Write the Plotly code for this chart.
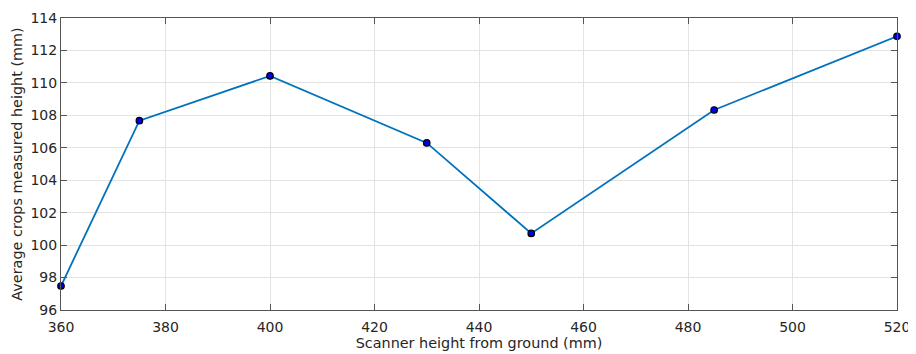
import plotly.graph_objects as go

scanner_height = [360, 375, 400, 430, 450, 485, 520]
avg_crop_height = [97.48, 107.67, 110.43, 106.3, 100.72, 108.33, 112.87]

x_ticks = [360, 380, 400, 420, 440, 460, 480, 500, 520]
y_ticks = [96, 98, 100, 102, 104, 106, 108, 110, 112, 114]

fig = go.Figure()
fig.add_trace(go.Scatter(
    x=scanner_height, y=avg_crop_height, mode="lines+markers",
    line=dict(color="#0072BD", width=1.8),
    marker=dict(color="#0000EE", size=6.5, line=dict(color="black", width=1.2)),
    cliponaxis=False, showlegend=False,
))

axis_common = dict(
    showgrid=True, gridcolor="#e3e3e3", gridwidth=1,
    showline=True, linecolor="#555555", linewidth=1, mirror="ticks",
    ticks="inside", ticklen=6, tickcolor="#555555", tickwidth=1,
    zeroline=False, automargin=False,
    tickfont=dict(family="DejaVu Sans", size=14, color="#262626"),
)

# page body has an 8px default margin, so the figure is offset by 8px
fig.update_layout(
    width=908, height=346,
    margin=dict(l=53, r=19, t=10, b=44),
    plot_bgcolor="white", paper_bgcolor="white",
    xaxis=dict(range=[360, 520], tickvals=x_ticks, ticklabelstandoff=4,
               title=dict(text="Scanner height from ground (mm)", standoff=2,
                          font=dict(family="DejaVu Sans", size=14.4, color="#262626")),
               **axis_common),
    yaxis=dict(range=[96, 114], tickvals=y_ticks,
               title=dict(text="Average crops measured height (mm)", standoff=4,
                          font=dict(family="DejaVu Sans", size=14.4, color="#262626")),
               **axis_common),
)

fig.write_html("out.html")
